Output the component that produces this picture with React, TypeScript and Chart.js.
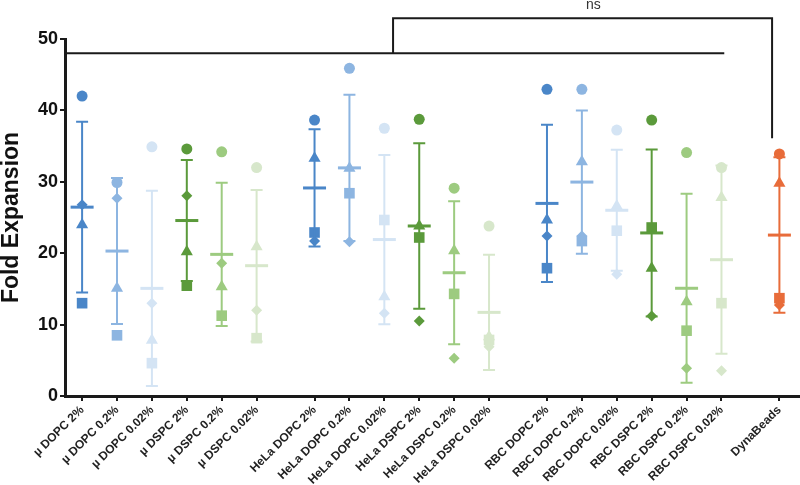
import React, { useEffect, useRef } from "react";
import { Chart, registerables } from "chart.js";

Chart.register(...registerables);

// ---- data ----
const categories = [
  "µ DOPC 2%", "µ DOPC 0.2%", "µ DOPC 0.02%", "µ DSPC 2%", "µ DSPC 0.2%", "µ DSPC 0.02%",
  "HeLa DOPC 2%", "HeLa DOPC 0.2%", "HeLa DOPC 0.02%", "HeLa DSPC 2%", "HeLa DSPC 0.2%", "HeLa DSPC 0.02%",
  "RBC DOPC 2%", "RBC DOPC 0.2%", "RBC DOPC 0.02%", "RBC DSPC 2%", "RBC DSPC 0.2%", "RBC DSPC 0.02%",
  "DynaBeads",
];
const groupIndex = [0, 0, 0, 0, 0, 0, 1, 1, 1, 1, 1, 1, 2, 2, 2, 2, 2, 2, 3];
const GROUP_GAP = 0.66;

const circleValues = [42.0, 29.9, 34.9, 34.6, 34.2, 32.0, 38.65, 45.9, 37.5, 38.75, 29.1, 23.8, 42.95, 42.95, 37.25, 38.65, 34.1, 32.0, 33.9];
const diamondValues = [26.8, 27.7, 13.0, 28.05, 18.6, 12.0, 21.7, 21.6, 11.6, 10.5, 5.3, 6.9, 22.4, 22.4, 17.05, 11.2, 3.9, 3.55, 12.75];
const triangleValues = [24.0, 15.1, 7.8, 20.2, 15.3, 20.9, 33.3, 31.9, 13.9, 23.8, 20.35, 8.3, 24.65, 32.8, 26.6, 17.9, 13.2, 27.8, 29.8];
const squareValues = [13.0, 8.5, 4.6, 15.45, 11.25, 8.1, 22.9, 28.4, 24.65, 22.2, 14.3, 7.85, 17.9, 21.7, 23.15, 23.6, 9.15, 13.0, 13.7];

const yTicks = [0, 10, 20, 30, 40, 50];

// significance annotation (data space)
const SIG_LINE_Y = 48.0;
const SIG_LINE_END_X = 18.4;
const BRACKET_LEFT_X = 8.91;
const BRACKET_RIGHT_X = 19.77;
const BRACKET_TOP_Y = 52.9;
const BRACKET_RIGHT_BOTTOM_Y = 36.1;
const NS_X = 14.65;
const NS_Y = 54.2;

// ---- styles ----
const BLUE_D = "#4a86c8";
const BLUE_M = "#8db5e1";
const BLUE_L = "#d4e4f4";
const GREEN_D = "#5b9a3b";
const GREEN_M = "#9dcb80";
const GREEN_L = "#d7e7cb";
const ORANGE = "#e86c3a";
const palette = [BLUE_D, BLUE_M, BLUE_L, GREEN_D, GREEN_M, GREEN_L];
const colors = categories.map((_, i) => (i === categories.length - 1 ? ORANGE : palette[i % 6]));

const positions = categories.map((_, i) => i + groupIndex[i] * GROUP_GAP);

const allValues = (i: number) => [circleValues[i], diamondValues[i], triangleValues[i], squareValues[i]];
const mean = (a: number[]) => a.reduce((s, v) => s + v, 0) / a.length;
const sd = (a: number[]) => {
  const m = mean(a);
  return Math.sqrt(a.reduce((s, v) => s + (v - m) * (v - m), 0) / (a.length - 1));
};

const AXIS_COLOR = "#1a1a1a";
const FONT = '"Liberation Sans", Arial, sans-serif';

const errorBarPlugin = {
  id: "errorBars",
  afterDatasetsDraw(chart: any) {
    const ctx = chart.ctx;
    const xs = chart.scales.x;
    const ys = chart.scales.y;
    ctx.save();
    positions.forEach((p, i) => {
      const vals = allValues(i);
      const m = mean(vals);
      const s = sd(vals);
      const px = xs.getPixelForValue(p);
      const yTop = ys.getPixelForValue(m + s);
      const yBot = ys.getPixelForValue(m - s);
      const yM = ys.getPixelForValue(m);
      ctx.strokeStyle = colors[i];
      ctx.lineWidth = 2;
      ctx.beginPath();
      ctx.moveTo(px, yTop);
      ctx.lineTo(px, yBot);
      ctx.moveTo(px - 6, yTop);
      ctx.lineTo(px + 6, yTop);
      ctx.moveTo(px - 6, yBot);
      ctx.lineTo(px + 6, yBot);
      ctx.stroke();
      ctx.lineWidth = 3;
      ctx.beginPath();
      ctx.moveTo(px - 11.5, yM);
      ctx.lineTo(px + 11.5, yM);
      ctx.stroke();
    });
    ctx.restore();
  },
};

const bracketPlugin = {
  id: "bracket",
  afterDraw(chart: any) {
    const ctx = chart.ctx;
    const xs = chart.scales.x;
    const ys = chart.scales.y;
    ctx.save();
    ctx.strokeStyle = AXIS_COLOR;
    ctx.lineWidth = 2;
    const ySig = ys.getPixelForValue(SIG_LINE_Y);
    ctx.beginPath();
    ctx.moveTo(xs.left, ySig);
    ctx.lineTo(xs.getPixelForValue(SIG_LINE_END_X), ySig);
    ctx.stroke();
    const bl = xs.getPixelForValue(BRACKET_LEFT_X);
    const br = xs.getPixelForValue(BRACKET_RIGHT_X);
    const bt = ys.getPixelForValue(BRACKET_TOP_Y);
    ctx.beginPath();
    ctx.moveTo(bl, ySig);
    ctx.lineTo(bl, bt);
    ctx.lineTo(br, bt);
    ctx.lineTo(br, ys.getPixelForValue(BRACKET_RIGHT_BOTTOM_Y));
    ctx.stroke();
    ctx.fillStyle = "#333";
    ctx.font = `14px ${FONT}`;
    ctx.textAlign = "center";
    ctx.textBaseline = "alphabetic";
    ctx.fillText("ns", xs.getPixelForValue(NS_X), ys.getPixelForValue(NS_Y));
    ctx.restore();
  },
};

const makeDataset = (values: number[], style: string, radius: number) => ({
  type: "scatter" as const,
  data: values.map((v, i) => ({ x: positions[i], y: v })),
  pointStyle: style,
  pointRadius: radius,
  pointHoverRadius: radius,
  backgroundColor: colors,
  borderColor: colors,
  borderWidth: 0,
  showLine: false,
});

export default function App() {
  const ref = useRef<HTMLCanvasElement | null>(null);
  useEffect(() => {
    if (!ref.current) return;
    const chart = new Chart(ref.current, {
      type: "scatter",
      data: {
        datasets: [
          makeDataset(squareValues, "rect", 7.5),
          makeDataset(triangleValues, "triangle", 7),
          makeDataset(diamondValues, "rectRot", 5.5),
          makeDataset(circleValues, "circle", 5.5),
        ] as any,
      },
      options: {
        responsive: false,
        animation: false,
        devicePixelRatio: 1,
        layout: { autoPadding: false, padding: { top: 39, right: 0, left: 0, bottom: 0 } },
        plugins: { legend: { display: false }, tooltip: { enabled: false } },
        events: [],
        scales: {
          x: {
            type: "linear",
            min: -0.49,
            max: 20.57,
            afterBuildTicks: (s: any) => {
              s.ticks = positions.map((v) => ({ value: v }));
            },
            afterFit: (s: any) => {
              s.height = 89;
              s.paddingLeft = 0;
              s.paddingRight = 0;
            },
            ticks: {
              autoSkip: false,
              minRotation: 45,
              maxRotation: 45,
              padding: 2,
              color: "#222",
              font: { family: FONT, size: 12, weight: "bold" },
              callback: (_v: any, i: number) => categories[i],
            },
            grid: { drawOnChartArea: false, drawTicks: true, tickLength: 5, color: AXIS_COLOR, lineWidth: 2 },
            border: { display: true, color: AXIS_COLOR, width: 3 },
          },
          y: {
            type: "linear",
            min: 0,
            max: 50,
            afterBuildTicks: (s: any) => {
              s.ticks = yTicks.map((v) => ({ value: v }));
            },
            afterFit: (s: any) => {
              s.width = 65;
            },
            ticks: {
              padding: 2,
              color: "#111",
              font: { family: FONT, size: 18, weight: "bold" },
            },
            title: {
              display: true,
              text: "Fold Expansion",
              color: "#111",
              padding: 0,
              font: { family: FONT, size: 23, weight: "bold", lineHeight: 1 },
            },
            grid: { drawOnChartArea: false, drawTicks: true, tickLength: 5, color: AXIS_COLOR, lineWidth: 2 },
            border: { display: true, color: AXIS_COLOR, width: 3 },
          },
        },
      } as any,
      plugins: [errorBarPlugin, bracketPlugin],
    });
    return () => chart.destroy();
  }, []);
  return (
    <div style={{ position: "absolute", left: 0, top: 0, width: 800, height: 485, background: "#fff" }}>
      <canvas ref={ref} width={800} height={485} />
    </div>
  );
}
